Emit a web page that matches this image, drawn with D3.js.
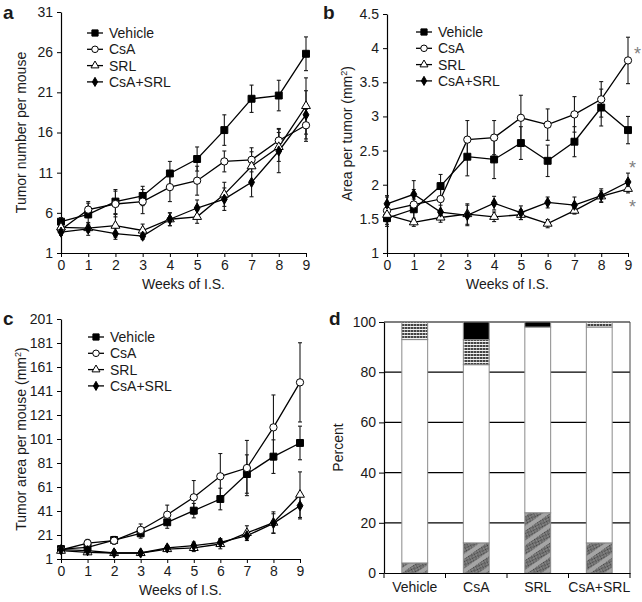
<!DOCTYPE html>
<meta charset="utf-8">
<script src="https://d3js.org/d3.v7.min.js"></script>
<style>
  body { margin: 0; background: #fff; }
  text { font-family: "Liberation Sans", Arial, sans-serif; fill: #1a1a1a; }
</style>
<div id="chart"></div>
<script>

// ---- data ----
var weeks = [0, 1, 2, 3, 4, 5, 6, 7, 8, 9];
var groups = ["Vehicle", "CsA", "SRL", "CsA+SRL"];

// a: tumor number per mouse
var numVehicle = [4.9, 5.8, 7.4, 8.1, 10.9, 12.7, 16.3, 20.2, 20.6, 25.8];
var numCsA     = [3.9, 6.4, 7.1, 7.4, 9.2, 10.0, 12.4, 12.6, 15.0, 16.9];
var numSRL     = [4.2, 4.1, 4.4, 3.8, 5.2, 5.5, 8.3, 11.8, 14.2, 19.3];
var numCombo   = [3.6, 4.0, 3.4, 3.1, 5.2, 6.6, 7.7, 9.8, 13.7, 18.2];
var numVehicleErr = [0.5, 1.4, 1.5, 1.2, 1.5, 1.5, 1.9, 1.7, 1.9, 2.1];
var numCsAErr     = [0.4, 1.0, 1.6, 1.5, 1.8, 1.8, 1.3, 1.5, 1.5, 2.0];
var numSRLErr     = [0.4, 0.5, 1.4, 0.8, 0.8, 0.8, 1.5, 1.8, 1.8, 3.5];
var numComboErr   = [0.4, 0.8, 0.7, 0.4, 0.8, 1.0, 1.4, 1.8, 2.7, 3.0];

// b: area per tumor (mm2)
var areaVehicle = [1.51, 1.64, 1.98, 2.41, 2.37, 2.61, 2.35, 2.63, 3.13, 2.80];
var areaCsA     = [1.62, 1.71, 1.79, 2.66, 2.69, 2.98, 2.88, 3.03, 3.25, 3.82];
var areaSRL     = [1.56, 1.45, 1.52, 1.57, 1.53, 1.56, 1.43, 1.62, 1.83, 1.94];
var areaCombo   = [1.72, 1.86, 1.60, 1.55, 1.73, 1.59, 1.74, 1.70, 1.84, 2.04];
var areaVehicleErr = [0.12, 0.15, 0.17, 0.28, 0.28, 0.24, 0.23, 0.22, 0.27, 0.20];
var areaCsAErr     = [0.20, 0.22, 0.20, 0.28, 0.25, 0.33, 0.23, 0.26, 0.26, 0.34];
var areaSRLErr     = [0.10, 0.06, 0.07, 0.15, 0.07, 0.07, 0.06, 0.05, 0.08, 0.06];
var areaComboErr   = [0.12, 0.20, 0.10, 0.15, 0.10, 0.10, 0.08, 0.12, 0.10, 0.13];
var areaStars = [3.99, 2.32, 1.75];   // positions of the * marks at week 9

// c: tumor area per mouse (mm2)
var totVehicle = [9.3, 10.7, 16.8, 22.4, 31.6, 41.3, 51, 71.8, 86.3, 97.7];
var totCsA     = [8.5, 14.3, 16.3, 25.2, 37.9, 52.4, 69.9, 76.8, 110.7, 148.2];
var totSRL     = [7.9, 6.6, 6.0, 6.0, 9.3, 10.2, 13.5, 22.7, 31.3, 54.6];
var totCombo   = [8.8, 7.9, 6.0, 6.0, 10.2, 12.1, 14.9, 20.4, 30.7, 45.4];
var totVehicleErr = [2, 3, 3, 4, 5, 6, 9, 16, 14, 14];
var totCsAErr     = [2, 3, 3, 5, 8, 14, 19, 23, 27, 33];
var totSRLErr     = [1, 1, 1, 1, 2, 3, 4, 6, 9, 19];
var totComboErr   = [1, 1, 1, 1, 2, 3, 3, 4, 8, 11];

// d: percent of tumours by type (stacked bottom to top)
var pctHatched = [4, 12, 24, 12];
var pctWhite   = [89, 71, 74, 86];
var pctDotted  = [7, 10, 0, 2];
var pctBlack   = [0, 7, 2, 0];

var width = 642, height = 602;

var svg = d3.select("#chart")
  .append("svg")
    .attr("width", width)
    .attr("height", height);

// patterns for panel d
var defs = svg.append("defs");
var hatch = defs.append("pattern")
    .attr("id", "hatch")
    .attr("patternUnits", "userSpaceOnUse")
    .attr("width", 2).attr("height", 2);
hatch.append("rect").attr("width", 2).attr("height", 2).attr("fill", "#8f8f8f");
hatch.append("rect").attr("width", 1).attr("height", 1).attr("fill", "#3e3e3e");
hatch.append("rect").attr("x", 1).attr("y", 1).attr("width", 1).attr("height", 1).attr("fill", "#5e5e5e");

var stripes = defs.append("pattern")
    .attr("id", "stripes")
    .attr("patternUnits", "userSpaceOnUse")
    .attr("width", 12).attr("height", 12)
    .attr("patternTransform", "rotate(-35)");
stripes.append("rect").attr("width", 12).attr("height", 12).attr("fill", "url(#hatch)");
stripes.append("rect").attr("y", 0).attr("width", 12).attr("height", 4).attr("fill", "#ababab").attr("opacity", 0.9);

var dots = defs.append("pattern")
    .attr("id", "dots")
    .attr("patternUnits", "userSpaceOnUse")
    .attr("width", 3).attr("height", 3);
dots.append("rect").attr("width", 3).attr("height", 3).attr("fill", "#f2f2f2");
dots.append("rect").attr("width", 2).attr("height", 2).attr("fill", "#444");
dots.append("rect").attr("x", 2).attr("width", 1).attr("height", 2).attr("fill", "#9a9a9a");

// symbol for each group
var symbols = [
  {type: d3.symbolSquare,   size: 48, fill: "#000"},
  {type: d3.symbolCircle,   size: 42, fill: "#fff"},
  {type: d3.symbolTriangle, size: 34, fill: "#fff"},
  {type: d3.symbolDiamond,  size: 30, fill: "#000"}
];

function panelLetter(t, x, y) {
  svg.append("text")
    .attr("x", x).attr("y", y)
    .style("font-size", "19px")
    .style("font-weight", "bold")
    .text(t);
}

function yTitle(g, text, x, y, sup) {
  var t = g.append("text")
    .attr("transform", "translate(" + x + "," + y + ")rotate(-90)")
    .attr("text-anchor", "middle")
    .style("font-size", "14px")
    .text(text);
  if (sup) {
    t.append("tspan").text("(mm");
    t.append("tspan").attr("baseline-shift", "super").style("font-size", "9px").text("2");
    t.append("tspan").text(")");
  }
}

function styleAxis(a) {
  a.select(".domain").attr("stroke", "#000").attr("stroke-width", 1.2);
  a.selectAll(".tick line").attr("stroke", "#000");
  a.selectAll(".tick text").style("font-size", "14px").attr("fill", "#1a1a1a")
    .style("font-family", "Liberation Sans, Arial, sans-serif");
}

function linePanel(p) {
  var x = d3.scaleLinear().domain([0, 9]).range([p.left, p.right]);
  var y = d3.scaleLinear().domain(p.domain).range([p.bottom, p.top]);
  var g = svg.append("g");

  var xa = g.append("g")
    .attr("transform", "translate(0," + p.bottom + ")")
    .call(d3.axisBottom(x).tickValues(weeks).tickSize(4).tickPadding(3).tickSizeOuter(0));
  styleAxis(xa);
  var ya = g.append("g")
    .attr("transform", "translate(" + p.left + ",0)")
    .call(d3.axisLeft(y).tickValues(p.ticks).tickFormat(p.fmt).tickSize(4).tickPadding(4).tickSizeOuter(0));
  styleAxis(ya);

  g.append("text")
    .attr("x", (p.left + p.right) / 2).attr("y", p.bottom + 36)
    .attr("text-anchor", "middle")
    .style("font-size", "14px")
    .text("Weeks of I.S.");
  yTitle(g, p.ytitle, p.left - 35, (p.top + p.bottom) / 2, p.sup);

  var line = d3.line()
    .x(function(d, i) { return x(weeks[i]); })
    .y(function(d) { return y(d); });

  p.series.forEach(function(s, k) {
    // error bars
    var eb = g.append("g").attr("stroke", "#1a1a1a").attr("stroke-width", 1.1);
    s.forEach(function(v, i) {
      var cx = x(weeks[i]);
      var hi = y(v + p.errs[k][i]), lo = y(v - p.errs[k][i]);
      eb.append("line").attr("x1", cx).attr("x2", cx).attr("y1", hi).attr("y2", lo);
      eb.append("line").attr("x1", cx - 2).attr("x2", cx + 2).attr("y1", hi).attr("y2", hi);
      eb.append("line").attr("x1", cx - 2).attr("x2", cx + 2).attr("y1", lo).attr("y2", lo);
    });
  });

  p.series.forEach(function(s, k) {
    g.append("path")
      .datum(s)
      .attr("fill", "none")
      .attr("stroke", "#000")
      .attr("stroke-width", 1.3)
      .attr("d", line);
  });

  p.series.forEach(function(s, k) {
    g.selectAll(null)
      .data(s)
      .enter()
      .append("path")
        .attr("transform", function(d, i) { return "translate(" + x(weeks[i]) + "," + y(d) + ")"; })
        .attr("d", d3.symbol().type(symbols[k].type).size(symbols[k].size))
        .attr("fill", symbols[k].fill)
        .attr("stroke", "#000")
        .attr("stroke-width", 1);
  });

  // legend
  var lg = g.append("g").attr("transform", "translate(" + p.legend[0] + "," + p.legend[1] + ")");
  groups.forEach(function(name, k) {
    var row = lg.append("g").attr("transform", "translate(0," + (k * 16.3) + ")");
    row.append("line").attr("x1", -8).attr("x2", 8).attr("stroke", "#000").attr("stroke-width", 1.3);
    row.append("path")
      .attr("d", d3.symbol().type(symbols[k].type).size(symbols[k].size * 0.8))
      .attr("fill", symbols[k].fill)
      .attr("stroke", "#000");
    row.append("text")
      .attr("x", 14).attr("y", 5)
      .style("font-size", "14px")
      .text(name);
  });

  return {x: x, y: y, g: g};
}

// ---- panel a ----
panelLetter("a", 3, 19);
linePanel({
  left: 61, right: 306, top: 12, bottom: 253,
  domain: [1, 31], ticks: d3.range(1, 32, 5), fmt: d3.format("d"),
  ytitle: "Tumor number per mouse", sup: false,
  series: [numVehicle, numCsA, numSRL, numCombo],
  errs: [numVehicleErr, numCsAErr, numSRLErr, numComboErr],
  legend: [95, 33]
});

// ---- panel b ----
panelLetter("b", 323, 19);
var pb = linePanel({
  left: 387, right: 628, top: 14, bottom: 253,
  domain: [1, 4.5], ticks: d3.range(1, 4.51, 0.5), fmt: function(d) { return String(+d.toFixed(1)); },
  ytitle: "Area per tumor ", sup: true,
  series: [areaVehicle, areaCsA, areaSRL, areaCombo],
  errs: [areaVehicleErr, areaCsAErr, areaSRLErr, areaComboErr],
  legend: [424, 32]
});
pb.g.selectAll(null)
  .data(areaStars)
  .enter()
  .append("text")
    .attr("x", function(d, i) { return pb.x(9) + (i === 0 ? 6 : 1); })
    .attr("y", function(d) { return pb.y(d) + 11; })
    .style("font-size", "18px")
    .style("fill", "#808080")
    .text("*");

// ---- panel c ----
panelLetter("c", 3, 325);
linePanel({
  left: 61, right: 300, top: 319, bottom: 559,
  domain: [1, 201], ticks: d3.range(1, 202, 20), fmt: d3.format("d"),
  ytitle: "Tumor area per mouse ", sup: true,
  series: [totVehicle, totCsA, totSRL, totCombo],
  errs: [totVehicleErr, totCsAErr, totSRLErr, totComboErr],
  legend: [96, 337]
});

// ---- panel d ----
panelLetter("d", 329, 325);
(function() {
  var left = 384, right = 630, top = 322, bottom = 573;
  var x = d3.scaleBand().domain(groups).range([left, right]).paddingInner(0.58).paddingOuter(0.29);
  var band = d3.scaleBand().domain(groups).range([left, right]);
  var y = d3.scaleLinear().domain([0, 100]).range([bottom, top]);
  var g = svg.append("g");

  // gridlines
  g.selectAll(null)
    .data([20, 40, 60, 80, 100])
    .enter()
    .append("line")
      .attr("x1", left).attr("x2", right)
      .attr("y1", function(d) { return y(d); })
      .attr("y2", function(d) { return y(d); })
      .attr("stroke", "#000").attr("stroke-width", 1.2);
  g.append("line")
    .attr("x1", right).attr("x2", right).attr("y1", top).attr("y2", bottom)
    .attr("stroke", "#444").attr("stroke-width", 1);

  var layers = [
    {vals: pctHatched, fill: "url(#stripes)"},
    {vals: pctWhite,   fill: "#fff"},
    {vals: pctDotted,  fill: "url(#dots)"},
    {vals: pctBlack,   fill: "#000"}
  ];
  groups.forEach(function(name, i) {
    var base = 0;
    layers.forEach(function(l) {
      var v = l.vals[i];
      if (v > 0) {
        g.append("rect")
          .attr("x", x(name)).attr("width", x.bandwidth())
          .attr("y", y(base + v)).attr("height", y(base) - y(base + v))
          .attr("fill", l.fill)
          .attr("stroke", "#8a8a8a").attr("stroke-width", 1);
      }
      base += v;
    });
  });

  var ya = g.append("g")
    .attr("transform", "translate(" + left + ",0)")
    .call(d3.axisLeft(y).tickValues([0, 20, 40, 60, 80, 100]).tickSize(5).tickPadding(3).tickSizeOuter(0));
  styleAxis(ya);

  var xa = g.append("g")
    .attr("transform", "translate(0," + bottom + ")")
    .call(d3.axisBottom(x).tickSize(0).tickPadding(9).tickSizeOuter(0));
  styleAxis(xa);
  // ticks at the category boundaries
  g.selectAll(null)
    .data(groups.concat(["end"]))
    .enter()
    .append("line")
      .attr("x1", function(d, i) { return left + i * band.bandwidth(); })
      .attr("x2", function(d, i) { return left + i * band.bandwidth(); })
      .attr("y1", bottom).attr("y2", bottom + 5)
      .attr("stroke", "#000");

  yTitle(g, "Percent", left - 41, (top + bottom) / 2, false);
})();

</script>
